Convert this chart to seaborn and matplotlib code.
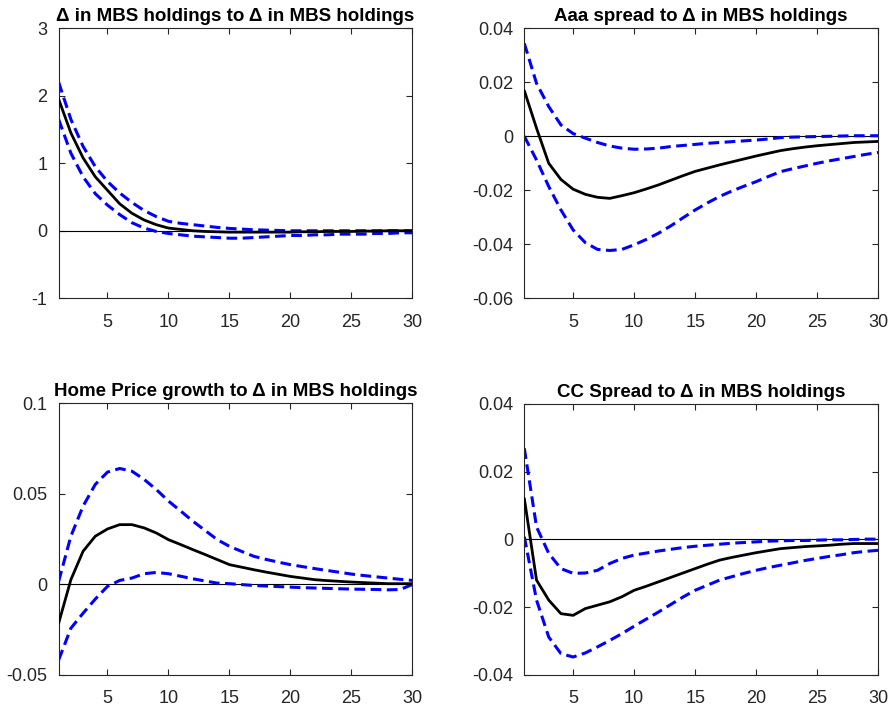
import numpy as np
import pandas as pd
import matplotlib
matplotlib.use("Agg")
import matplotlib.pyplot as plt
import seaborn as sns

horizon = list(range(1, 31))

titles = [
    "\u0394 in MBS holdings to \u0394 in MBS holdings",
    "Aaa spread to \u0394 in MBS holdings",
    "Home Price growth to \u0394 in MBS holdings",
    "CC Spread to \u0394 in MBS holdings",
]

mbs_median = [1.95, 1.45, 1.08, 0.80, 0.60, 0.40, 0.26, 0.16, 0.09, 0.04, 0.02, 0.00, -0.01, -0.015, -0.02,
              -0.02, -0.02, -0.02, -0.02, -0.02, -0.015, -0.015, -0.01, -0.01, -0.01, -0.005, -0.005, 0.0, 0.0, 0.0]
mbs_upper = [2.2, 1.65, 1.25, 0.95, 0.73, 0.56, 0.42, 0.30, 0.21, 0.14, 0.11, 0.09, 0.07, 0.05, 0.035,
             0.025, 0.015, 0.01, 0.005, 0.0, 0.0, 0.0, 0.0, 0.0, 0.0, 0.0, 0.0, 0.0, 0.0, 0.0]
mbs_lower = [1.65, 1.15, 0.80, 0.55, 0.38, 0.24, 0.12, 0.04, -0.01, -0.04, -0.06, -0.08, -0.09, -0.10, -0.11,
             -0.11, -0.10, -0.09, -0.08, -0.07, -0.07, -0.06, -0.06, -0.05, -0.05, -0.05, -0.04, -0.04, -0.03, -0.03]

aaa_median = [0.0169, 0.003, -0.010, -0.016, -0.0196, -0.0215, -0.0226, -0.023, -0.022, -0.0209, -0.0195, -0.018,
              -0.0163, -0.0146, -0.013, -0.0118, -0.0106, -0.0095, -0.0084, -0.0073, -0.0063, -0.0053, -0.0046,
              -0.004, -0.0035, -0.0031, -0.0027, -0.0023, -0.0021, -0.0019]
aaa_upper = [0.0344, 0.0196, 0.011, 0.0042, 0.001, -0.0007, -0.0023, -0.0036, -0.0044, -0.0048, -0.0047, -0.0044,
             -0.0038, -0.0034, -0.003, -0.0026, -0.0023, -0.002, -0.0017, -0.0014, -0.001, -0.0005, -0.0003,
             -0.0002, -0.0001, 0.0, 0.0001, 0.0002, 0.0002, 0.0002]
aaa_lower = [0.0, -0.0088, -0.0186, -0.0273, -0.0347, -0.0394, -0.0419, -0.0423, -0.0419, -0.0402, -0.0382, -0.0359,
             -0.0332, -0.0302, -0.0273, -0.0247, -0.0223, -0.0203, -0.0185, -0.0168, -0.0149, -0.0131, -0.0120,
             -0.0110, -0.0100, -0.0091, -0.0083, -0.0075, -0.0067, -0.006]

hp_median = [-0.0214, 0.0026, 0.0183, 0.0266, 0.0306, 0.033, 0.033, 0.0312, 0.0284, 0.0247, 0.022, 0.0192, 0.0165,
             0.0137, 0.0109, 0.0095, 0.0081, 0.0068, 0.0056, 0.0044, 0.0035, 0.0026, 0.0021, 0.0017, 0.0013, 0.001,
             0.0007, 0.0004, 0.0004, 0.0004]
hp_upper = [0.0017, 0.0266, 0.0432, 0.0552, 0.062, 0.064, 0.0625, 0.058, 0.0524, 0.046, 0.0405, 0.0349, 0.0298,
            0.0247, 0.021, 0.0182, 0.0155, 0.0138, 0.0123, 0.0109, 0.0098, 0.0087, 0.0077, 0.0067, 0.0057, 0.0049,
            0.0042, 0.0035, 0.0028, 0.0022]
hp_lower = [-0.0417, -0.0242, -0.0159, -0.0081, -0.0011, 0.0022, 0.0035, 0.0059, 0.0066, 0.0059, 0.0045, 0.0031,
            0.0019, 0.0007, 0.0004, -0.0001, -0.0006, -0.0009, -0.0012, -0.0015, -0.0018, -0.002, -0.0022, -0.0024,
            -0.0026, -0.0027, -0.0028, -0.003, -0.0028, 0.0]

cc_median = [0.0121, -0.012, -0.0179, -0.0219, -0.0224, -0.0204, -0.0194, -0.0184, -0.0169, -0.015, -0.0138,
             -0.0125, -0.0112, -0.0099, -0.0086, -0.0073, -0.0061, -0.0053, -0.0046, -0.0039, -0.0033, -0.0027,
             -0.0024, -0.0021, -0.0019, -0.0017, -0.0014, -0.0012, -0.0012, -0.0012]
cc_upper = [0.0269, 0.0037, -0.0041, -0.0086, -0.01, -0.0099, -0.0091, -0.0071, -0.0056, -0.0046, -0.004, -0.0034,
            -0.0029, -0.0024, -0.002, -0.0017, -0.0014, -0.0011, -0.0009, -0.0007, -0.0005, -0.0004, -0.0003,
            -0.0003, -0.0002, -0.0001, -0.0001, 0.0, 0.0001, 0.0001]
cc_lower = [0.0008, -0.0179, -0.0288, -0.0337, -0.0347, -0.0335, -0.0317, -0.0298, -0.0278, -0.0256, -0.0235,
            -0.0214, -0.0192, -0.0170, -0.015, -0.0135, -0.012, -0.011, -0.01, -0.0091, -0.0083, -0.0076, -0.0069,
            -0.0062, -0.0056, -0.005, -0.0045, -0.0039, -0.0035, -0.0032]

yticks = [
    [-1, 0, 1, 2, 3],
    [-0.06, -0.04, -0.02, 0, 0.02, 0.04],
    [-0.05, 0, 0.05, 0.1],
    [-0.04, -0.02, 0, 0.02, 0.04],
]
ytick_labels = [
    ["-1", "0", "1", "2", "3"],
    ["-0.06", "-0.04", "-0.02", "0", "0.02", "0.04"],
    ["-0.05", "0", "0.05", "0.1"],
    ["-0.04", "-0.02", "0", "0.02", "0.04"],
]
xticks = [5, 10, 15, 20, 25, 30]

series = [
    (mbs_median, mbs_upper, mbs_lower),
    (aaa_median, aaa_upper, aaa_lower),
    (hp_median, hp_upper, hp_lower),
    (cc_median, cc_upper, cc_lower),
]

sns.set_theme(style="white")
plt.rcParams["font.family"] = ["Liberation Sans", "DejaVu Sans"]
plt.rcParams["axes.unicode_minus"] = False

fig = plt.figure(figsize=(8.89, 7.09), dpi=100)
positions = [
    [0.066, 0.5793, 0.398, 0.3808],
    [0.5898, 0.5793, 0.398, 0.3808],
    [0.066, 0.048, 0.398, 0.3832],
    [0.5898, 0.048, 0.398, 0.3822],
]

axis_color = "#262626"
for i in range(4):
    ax = fig.add_axes(positions[i])
    med, up, lo = series[i]
    df = pd.DataFrame({"h": horizon, "median": med, "upper": up, "lower": lo})
    ax.axhline(0, color="black", lw=0.8, zorder=1)
    sns.lineplot(data=df, x="h", y="upper", ax=ax, color="#0000ff", lw=2.2, dashes=False, zorder=2)
    sns.lineplot(data=df, x="h", y="lower", ax=ax, color="#0000ff", lw=2.2, dashes=False, zorder=2)
    for ln in ax.get_lines()[1:]:
        ln.set_dashes([3.5, 1.8])
    sns.lineplot(data=df, x="h", y="median", ax=ax, color="black", lw=2.0, zorder=3)
    ax.set_xlim(1, 30)
    ax.set_ylim(yticks[i][0], yticks[i][-1])
    ax.set_xticks(xticks)
    ax.set_xticklabels([str(t) for t in xticks])
    ax.set_yticks(yticks[i])
    ax.set_yticklabels(ytick_labels[i])
    ax.set_xlabel("")
    ax.set_ylabel("")
    ax.set_title(titles[i], fontsize=13.5, fontweight="bold", color="black", pad=5)
    for sp in ax.spines.values():
        sp.set_visible(True)
        sp.set_color(axis_color)
        sp.set_linewidth(0.8)
    ax.tick_params(direction="in", length=4, width=0.8, color=axis_color, labelcolor=axis_color,
                   labelsize=13, top=True, right=True, bottom=True, left=True)
    ax.tick_params(axis="x", pad=11)
    ax.tick_params(axis="y", pad=8)
    ax.set_facecolor("white")

fig.savefig("out.png", dpi=100, facecolor="white")
